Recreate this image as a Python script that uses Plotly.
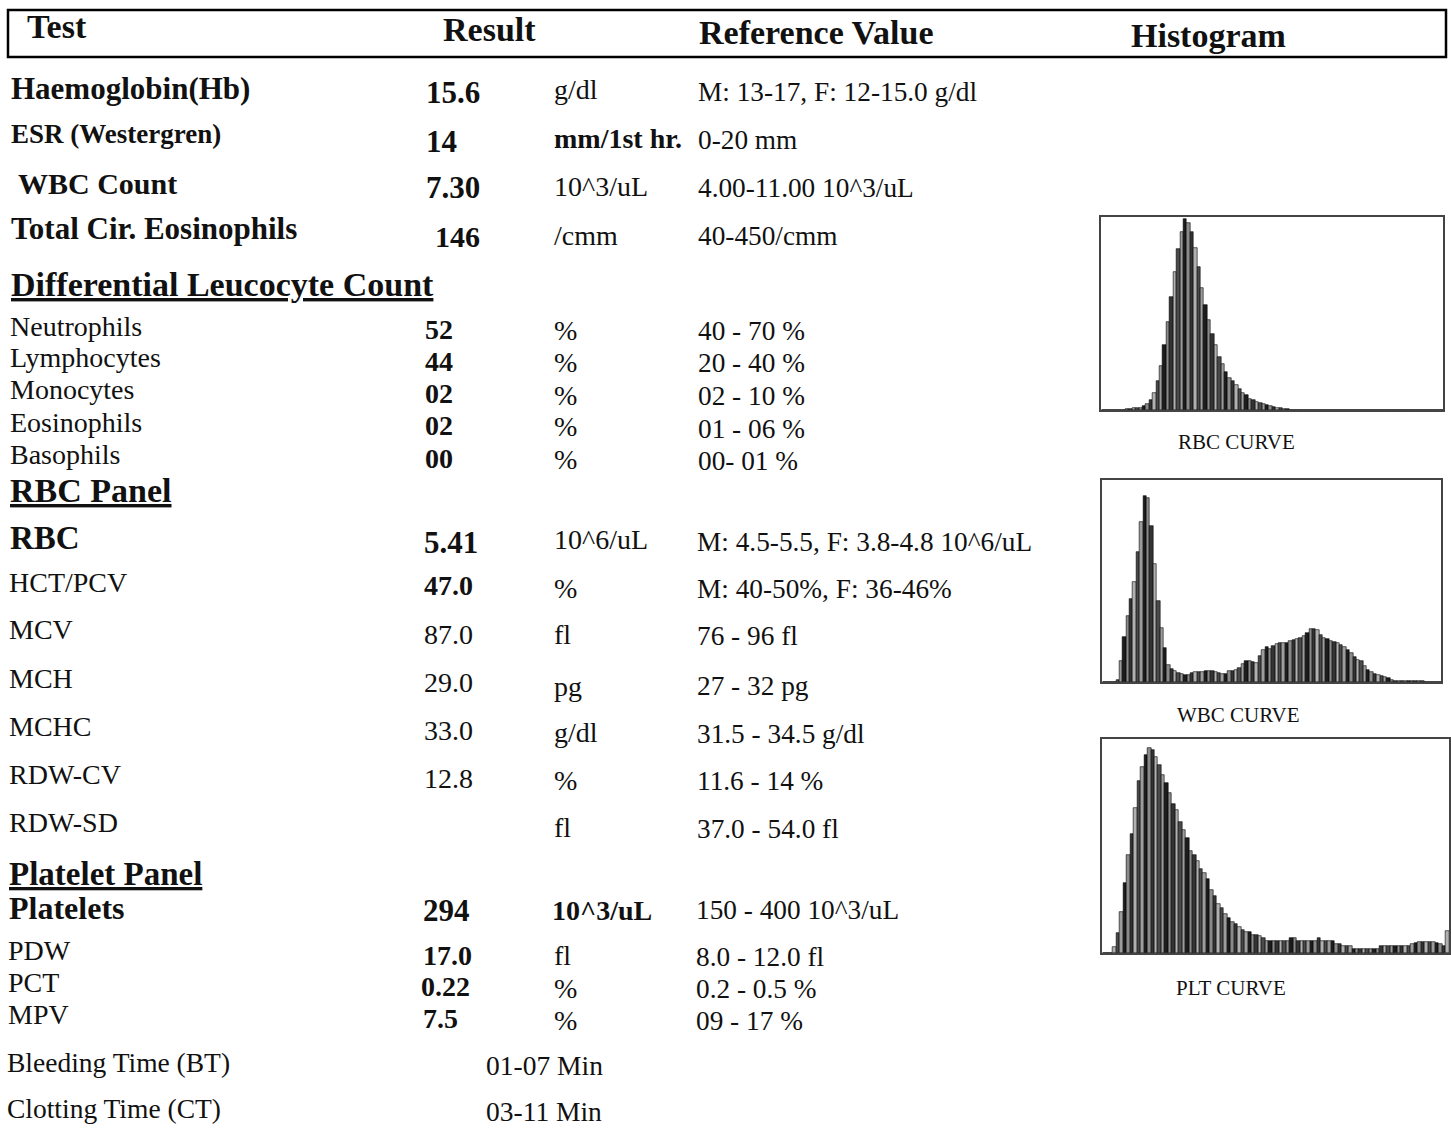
import plotly.graph_objects as go

W, H = 1451, 1128

# ---------------- data ----------------
headers = ["Test", "Result", "Reference Value", "Histogram"]

tests = ["Haemoglobin(Hb)", "ESR (Westergren)", "WBC Count", "Total Cir. Eosinophils",
         "Neutrophils", "Lymphocytes", "Monocytes", "Eosinophils", "Basophils",
         "RBC", "HCT/PCV", "MCV", "MCH", "MCHC", "RDW-CV", "RDW-SD",
         "Platelets", "PDW", "PCT", "MPV"]
results = ["15.6", "14", "7.30", "146",
           "52", "44", "02", "02", "00",
           "5.41", "47.0", "87.0", "29.0", "33.0", "12.8", "",
           "294", "17.0", "0.22", "7.5"]
units = ["g/dl", "mm/1st hr.", "10^3/uL", "/cmm",
         "%", "%", "%", "%", "%",
         "10^6/uL", "%", "fl", "pg", "g/dl", "%", "fl",
         "10^3/uL", "fl", "%", "%"]
refs = ["M: 13-17, F: 12-15.0 g/dl", "0-20 mm", "4.00-11.00 10^3/uL", "40-450/cmm",
        "40 - 70 %", "20 - 40 %", "02 - 10 %", "01 - 06 %", "00- 01 %",
        "M: 4.5-5.5, F: 3.8-4.8 10^6/uL", "M: 40-50%, F: 36-46%", "76 - 96 fl",
        "27 - 32 pg", "31.5 - 34.5 g/dl", "11.6 - 14 %", "37.0 - 54.0 fl",
        "150 - 400 10^3/uL", "8.0 - 12.0 fl", "0.2 - 0.5 %", "09 - 17 %"]
sections = ["Differential Leucocyte Count", "RBC Panel", "Platelet Panel"]
timing_tests = ["Bleeding Time (BT)", "Clotting Time (CT)"]
timing_refs = ["01-07 Min", "03-11 Min"]

curve_names = ["RBC CURVE", "WBC CURVE", "PLT CURVE"]
rbc_curve = [0, 0, 0, 0, 0, 0, 0, 0.5, 0.5, 1, 1, 1, 2, 3, 5, 9, 15, 23, 34, 46,
             59, 72, 84, 93, 100, 98, 93, 85, 75, 64, 55, 47, 40, 34, 28, 24, 20, 17, 15, 13,
             11, 9, 8, 6, 5, 4, 3.5, 3, 2.5, 2, 1.5, 1, 0.8, 0.5, 0.3, 0, 0, 0, 0, 0,
             0, 0, 0, 0, 0, 0, 0, 0, 0, 0, 0, 0, 0, 0, 0, 0, 0, 0, 0, 0,
             0, 0, 0, 0, 0, 0, 0, 0, 0, 0, 0, 0, 0, 0, 0, 0, 0, 0, 0, 0]
wbc_curve = [0, 0, 0, 0, 1, 11, 24, 35, 44, 53, 69, 85, 99, 98, 83, 63, 43, 29, 18, 9,
             7, 6, 5, 4.3, 3.7, 3.8, 4.6, 5.5, 5.2, 5.5, 6, 6, 6, 5.3, 5, 4.2, 4.5, 5.8, 6, 6.3,
             7.5, 9.5, 11, 11.3, 10.7, 10, 13.6, 17, 18.4, 17.7, 19, 20, 21, 21, 21, 21.6, 22.5, 23, 23.5, 24.5,
             26, 28, 28.3, 27.5, 25, 23.4, 22.8, 22, 21.4, 20.5, 19.6, 18.5, 17, 15.2, 13.3, 11.7, 11, 8.5, 6.5, 5.2,
             4.5, 3.7, 3.2, 2.7, 2, 1.2, 0.6, 0.4, 0.3, 0.3, 0.3, 0.3, 0.3, 0.3, 0.3, 0, 0, 0, 0, 0]
plt_curve = [0, 0, 0, 3, 10, 20, 34, 48, 58, 71, 84, 91, 97, 100, 99, 96, 92, 87, 83, 78,
             73, 70, 64, 60, 56, 50, 48, 45, 41, 39, 36, 31, 28, 24, 22, 19, 17, 15, 14, 12.5,
             11.4, 10.5, 10.2, 9, 8.9, 8.1, 7.3, 6, 6, 6, 6, 6, 6, 6, 7.3, 7.3, 6, 6, 6, 6,
             6, 6, 7.3, 6, 5.7, 5.7, 5.7, 4.4, 4.4, 3.3, 3.3, 3.3, 2, 2, 2, 2, 2, 2, 2, 2,
             3.3, 3.3, 3.3, 3.3, 3.3, 3.3, 3.3, 3.3, 3.3, 4.4, 4.9, 5.4, 5.4, 5.4, 5.4, 5.4, 4.9, 4.4, 3.3, 10.6]

# ---------------- layout / style (positions in pixels) ----------------
FONT = "Liberation Serif"
INK = "#111111"

name_x = [9, 9, 16, 9, 8, 8, 8, 8, 8, 8, 7, 7, 7, 7, 7, 7, 7, 6, 6, 6]
name_y = [88, 134, 183, 228, 326, 358, 390, 422, 454, 538, 582, 630, 678, 726, 774, 822, 908, 950, 982, 1014]
name_size = [31, 27, 30, 31, 28, 28, 28, 28, 28, 33, 28, 28, 28, 28, 28, 28, 32, 28, 28, 28]
name_bold = [True] * 4 + [False] * 5 + [True] + [False] * 6 + [True] + [False] * 3

res_x = [425, 425, 425, 434, 424, 424, 424, 424, 424, 423, 423, 423, 423, 423, 423, 423, 422, 422, 420, 422]
res_y = [93, 141, 188, 236, 329, 361, 394, 426, 458, 542, 586, 634, 682, 730, 778, 827, 910, 955, 986, 1018]
res_size = [31, 31, 31, 30, 28, 28, 28, 28, 28, 31, 28, 28, 28, 28, 28, 28, 31, 28, 28, 28]
res_bold = [True] * 11 + [False] * 5 + [True] * 4

unit_x = [553] * 16 + [551, 553, 553, 553]
unit_y = [90, 138, 186, 235, 330, 362, 395, 427, 459, 539, 588, 634, 686, 732, 780, 827, 910, 955, 988, 1020]
unit_size = [28] * 20
unit_bold = [False, True] + [False] * 14 + [True, False, False, False]

ref_x = [697] * 9 + [696] * 7 + [695] * 4
ref_y = [92, 140, 188, 236, 331, 363, 396, 429, 461, 542, 589, 636, 686, 734, 781, 829, 910, 957, 989, 1021]
ref_size = 27.3

sec_xy = [(9, 284), (8, 490), (7, 874)]
sec_size = [34, 34, 33]
timing_y = [1062, 1108]

header_xy = [(25, 27), (442, 30), (698, 32), (1131, 35)]

# histogram boxes: (left, top, right, bottom) px, y max, label (x, y)
boxes = [(1103, 217, 1445, 410), (1104, 480, 1443, 682), (1104, 739, 1451, 953)]
ymax = [101, 107.5, 104.6]
label_xy = [(1238, 442), (1240, 715), (1233, 988)]

bar_cycle = ["#1c1c1c", "#8a8a8a", "#333333", "#b0b0b0", "#4a4a4a", "#9c9c9c"]


def px(x):
    return x / W


def py(y):
    return 1 - y / H


annotations = []


def add_text(text, x, y, size, bold=False, xanchor="left"):
    annotations.append(dict(
        text=f"<b>{text}</b>" if bold else text,
        x=px(x), y=py(y), xref="paper", yref="paper",
        xanchor=xanchor, yanchor="middle", showarrow=False,
        font=dict(family=FONT, size=size, color=INK),
    ))


for (hx, hy), htxt in zip(header_xy, headers):
    add_text(htxt, hx, hy, 34, True)

for i in range(len(tests)):
    add_text(tests[i], name_x[i], name_y[i], name_size[i], name_bold[i])
    if results[i]:
        add_text(results[i], res_x[i], res_y[i], res_size[i], res_bold[i])
    add_text(units[i], unit_x[i], unit_y[i], unit_size[i], unit_bold[i])
    add_text(refs[i], ref_x[i], ref_y[i], ref_size, False)

for (sx, sy), s, ss in zip(sec_xy, sections, sec_size):
    add_text(f"<u>{s}</u>", sx, sy, ss, True)

for t, r, ty in zip(timing_tests, timing_refs, timing_y):
    add_text(t, 5, ty, 27.5)
    add_text(r, 485, ty + 3, 27.5)

for name, (lx, ly) in zip(curve_names, label_xy):
    add_text(name, lx, ly, 21, False, xanchor="center")

fig = go.Figure()

curves = [rbc_curve, wbc_curve, plt_curve]
for k, (vals, box) in enumerate(zip(curves, boxes)):
    xa = "x" if k == 0 else f"x{k + 1}"
    ya = "y" if k == 0 else f"y{k + 1}"
    fig.add_trace(go.Bar(
        x=list(range(len(vals))), y=vals, xaxis=xa, yaxis=ya,
        marker=dict(color=[bar_cycle[j % len(bar_cycle)] for j in range(len(vals))],
                    line=dict(color="#000000", width=0.6)),
        showlegend=False, hoverinfo="skip",
    ))
    l, t, r, b = box
    axis_common = dict(showgrid=False, zeroline=False, showticklabels=False, ticks="",
                       showline=True, mirror=True, linecolor="#444444", linewidth=1.5)
    key = "" if k == 0 else str(k + 1)
    fig.layout[f"xaxis{key}"] = dict(domain=[px(l), min(px(r), 1.0)], range=[-0.5, len(vals) - 0.5],
                                     anchor=ya, **axis_common)
    fig.layout[f"yaxis{key}"] = dict(domain=[py(b), py(t)], range=[0, ymax[k]], anchor=xa, **axis_common)

shapes = [dict(type="rect", xref="paper", yref="paper", x0=px(8), x1=px(1448), y0=py(57), y1=py(10),
               line=dict(color="#000000", width=2.5))]

fig.update_layout(
    width=W, height=H, autosize=False,
    margin=dict(l=0, r=0, t=0, b=0, pad=0),
    paper_bgcolor="white", plot_bgcolor="white",
    bargap=0, annotations=annotations, shapes=shapes,
    showlegend=False,
)

fig.write_html("out.html", config={"displayModeBar": False},
               post_script="document.body.style.margin='0';document.body.style.overflow='hidden';")
